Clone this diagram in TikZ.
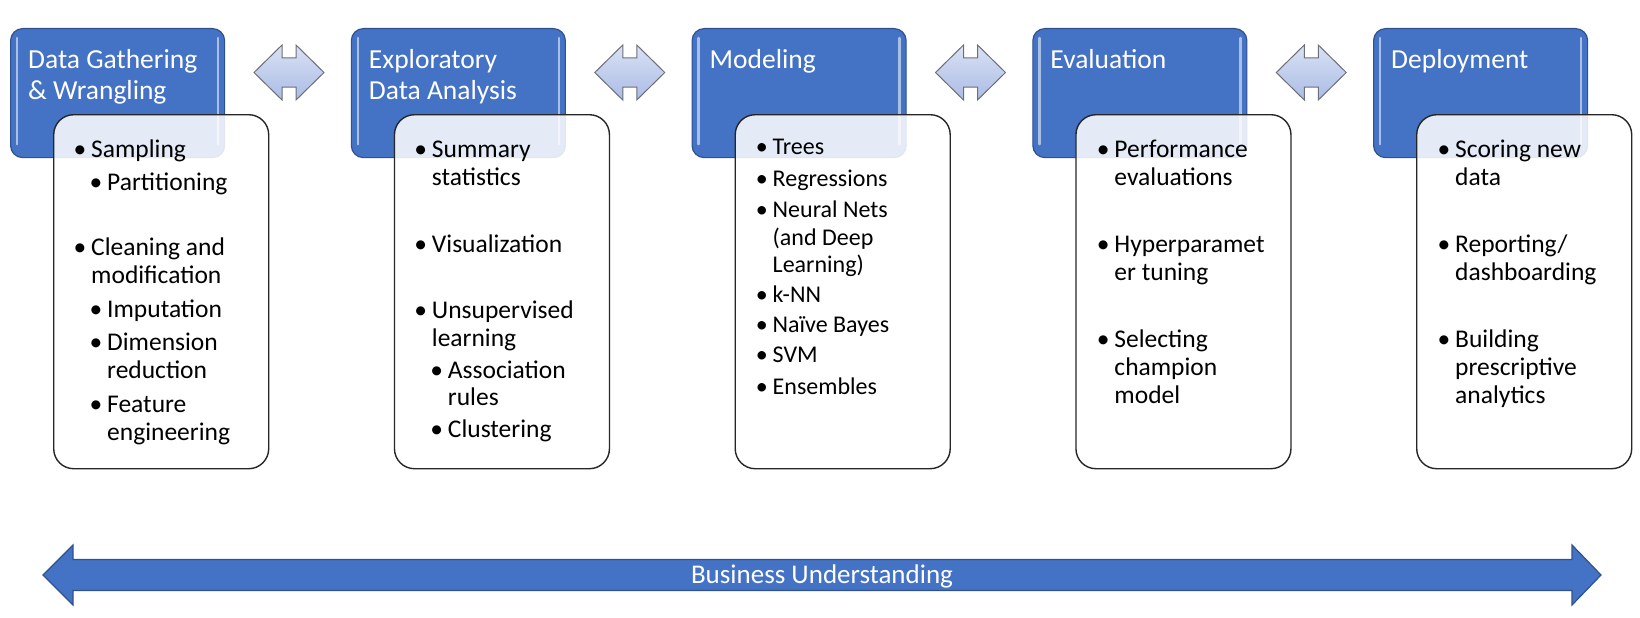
\documentclass[tikz,border=0pt]{standalone}
\usepackage{fontspec}
\setmainfont{Carlito}
\usetikzlibrary{calc}

\definecolor{stageblue}{RGB}{68,114,196}
\definecolor{stageline}{RGB}{47,82,143}
\definecolor{linkfill}{RGB}{170,188,230}
\definecolor{linkline}{RGB}{110,110,120}

\newcommand{\bul}{\llap{\textbullet\hspace{5pt}}}

\tikzset{
  stagebox/.style={draw=stageline, line width=1.2pt, fill=stageblue, rounded corners=12pt,
    minimum width=214pt, minimum height=129pt, inner sep=0pt, anchor=north west},
  itembox/.style={draw=black!85, line width=1.4pt, fill=white, fill opacity=0.86, rounded corners=20pt,
    minimum width=215pt, minimum height=354pt, inner sep=0pt, anchor=north west},
  ttl/.style={anchor=base west, inner sep=0pt, text=white, font=\fontsize{27.5}{31}\selectfont},
  itm/.style={anchor=base west, inner sep=0pt, font=\fontsize{25.5}{28}\selectfont},
  itmsmall/.style={itm, font=\fontsize{24}{27}\selectfont},
  glint/.style={white, opacity=0.55, line width=2.5pt, line cap=round},
  link/.style={draw=linkline, line width=1pt, top color=linkfill!45!white, bottom color=linkfill},
  bigarrow/.style={draw=stageline, line width=1.2pt, fill=stageblue}
}

\begin{document}
\begin{tikzpicture}[x=1pt,y=-1pt]
\useasboundingbox (0,0) rectangle (1640,618);

% stages
\foreach \i/\lineA/\lineB in {0/Data Gathering/{\& Wrangling}, 1/Exploratory/Data Analysis,
    2/Modeling/{}, 3/Evaluation/{}, 4/Deployment/{}} {
  \pgfmathsetmacro{\bx}{10+340.75*\i}
  \node[stagebox] (stage\i) at (\bx,28) {};
  \draw[glint] ($(stage\i.north west)+(7,10)$) -- ($(stage\i.south west)+(7,-14)$);
  \draw[glint] ($(stage\i.north east)+(-7,10)$) -- ($(stage\i.south east)+(-7,-14)$);
  \node[ttl] (title\i-a) at ($(stage\i.north west)+(18,40)$) {\lineA};
  \node[ttl] (title\i-b) at ($(stage\i.north west)+(18,71)$) {\lineB};
  \node[itembox] (items\i) at (\bx+43,114) {};
}

% bullet texts
\foreach \dx/\dy/\txt [count=\k] in {38/43/{\bul Sampling}, 54/76/{\bul Partitioning},
    38/141/{\bul Cleaning and}, 38/169/modification, 54/203/{\bul Imputation},
    54/236/{\bul Dimension}, 54/264/reduction, 54/298/{\bul Feature}, 54/326/engineering}
  \node[itm] (gather\k) at ($(items0.north west)+(\dx,\dy)$) {\txt};

\foreach \dx/\dy/\txt [count=\k] in {38/43/{\bul Summary}, 38/71/statistics,
    38/138/{\bul Visualization}, 38/204/{\bul Unsupervised}, 38/232/learning,
    54/264/{\bul Association}, 54/291/rules, 54/323/{\bul Clustering}}
  \node[itm] (explore\k) at ($(items1.north west)+(\dx,\dy)$) {\txt};

\foreach \dx/\dy/\txt [count=\k] in {38/40/{\bul Trees}, 38/72/{\bul Regressions},
    38/103/{\bul Neural Nets}, 38/131/(and Deep, 38/158/Learning), 38/188/{\bul k-NN},
    38/218/{\bul Naïve Bayes}, 38/248/{\bul SVM}, 38/280/{\bul Ensembles}}
  \node[itmsmall] (model\k) at ($(items2.north west)+(\dx,\dy)$) {\txt};

\foreach \dx/\dy/\txt [count=\k] in {39/43/{\bul Performance}, 39/71/evaluations,
    39/138/{\bul Hyperparamet}, 39/166/er tuning, 39/233/{\bul Selecting},
    39/261/champion, 39/289/model}
  \node[itm] (eval\k) at ($(items3.north west)+(\dx,\dy)$) {\txt};

\foreach \dx/\dy/\txt [count=\k] in {39/43/{\bul Scoring new}, 39/71/data,
    39/138/{\bul {Reporting/}}, 39/166/dashboarding, 39/233/{\bul Building},
    39/261/prescriptive, 39/289/analytics}
  \node[itm] (deploy\k) at ($(items4.north west)+(\dx,\dy)$) {\txt};

% links between stages
\foreach \i in {0,...,3} {
  \pgfmathsetmacro{\ax}{254+340.75*\i}
  \draw[link] (\ax,72.5) -- (\ax+28,45) -- (\ax+28,58) -- (\ax+42,58) -- (\ax+42,45)
    -- (\ax+70,72.5) -- (\ax+42,100) -- (\ax+42,87) -- (\ax+28,87) -- (\ax+28,100) -- cycle;
}

% business understanding
\draw[bigarrow] (43,575) -- (73,545) -- (73,559.5) -- (1572,559.5) -- (1572,545) -- (1601,575)
  -- (1572,605) -- (1572,590.5) -- (73,590.5) -- (73,605) -- cycle;
\node[anchor=base, inner sep=0pt, text=white, font=\fontsize{27}{30}\selectfont] (business) at (822,583) {Business Understanding};
\end{tikzpicture}
\end{document}
